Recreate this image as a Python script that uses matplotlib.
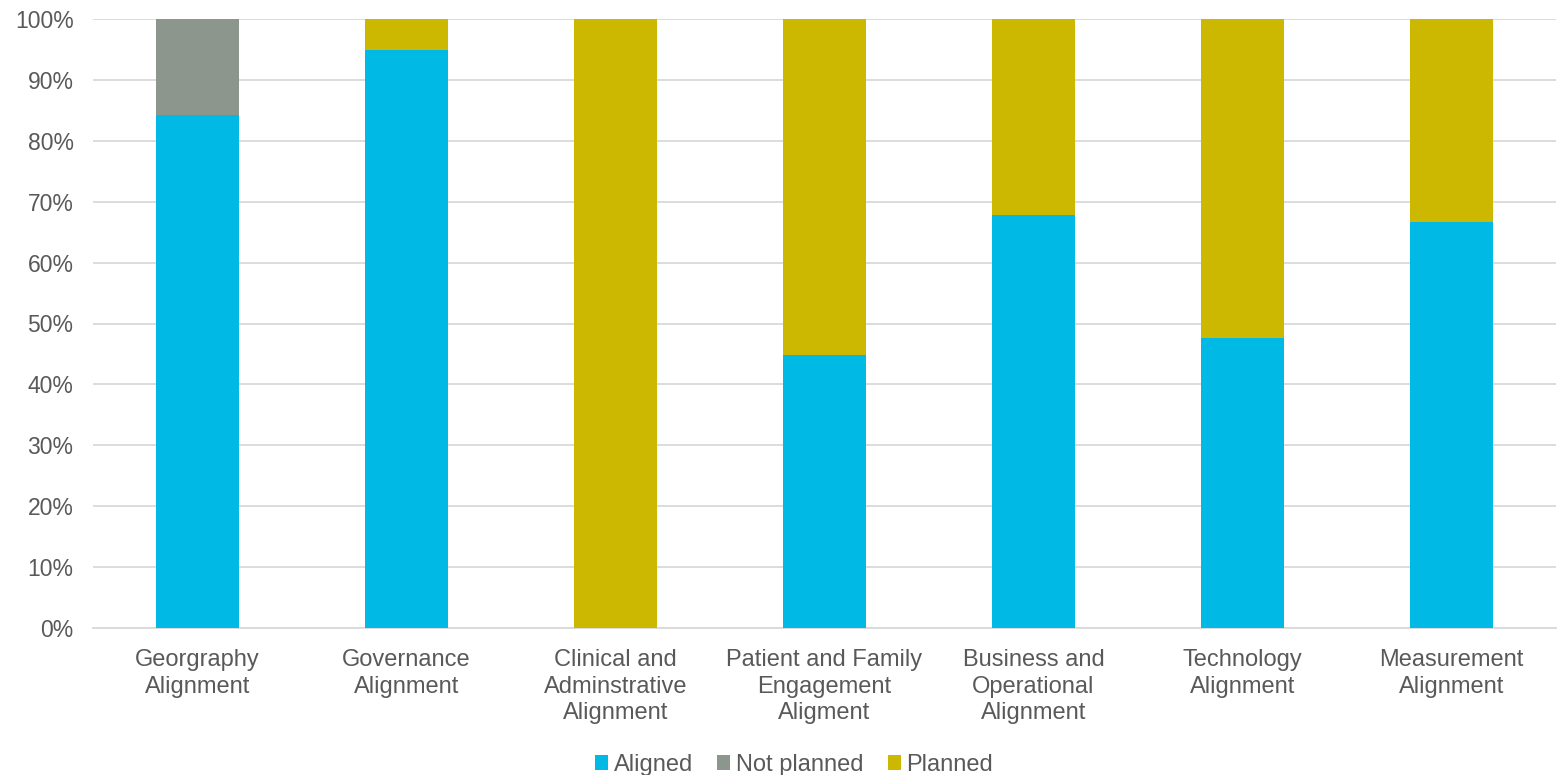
import matplotlib
matplotlib.use('Agg')
import matplotlib.pyplot as plt
import numpy as np
from matplotlib.ticker import PercentFormatter

plt.rcParams['font.family'] = ['Liberation Sans', 'DejaVu Sans']

categories = ['Georgraphy\nAlignment', 'Governance\nAlignment', 'Clinical and\nAdminstrative\nAlignment',
              'Patient and Family\nEngagement\nAligment', 'Business and\nOperational\nAlignment',
              'Technology\nAlignment', 'Measurement\nAlignment']
aligned = [84.2, 94.9, 0.0, 44.8, 67.8, 47.6, 66.7]
not_planned = [15.8, 0.0, 0.0, 0.0, 0.0, 0.0, 0.0]
planned = [0.0, 5.1, 100.0, 55.2, 32.2, 52.4, 33.3]
series_names = ['Aligned', 'Not planned', 'Planned']
colors = ['#00B9E4', '#8C968C', '#CCB800']

text_color = '#595959'

fig = plt.figure(figsize=(15.58, 7.75), dpi=100)
ax = fig.add_axes([93 / 1558, 1 - 628 / 775, 1463 / 1558, 609 / 775])

x = np.arange(len(categories))
bottom = np.zeros(len(categories))
for vals, name, c in zip([aligned, not_planned, planned], series_names, colors):
    ax.bar(x, vals, width=0.4, bottom=bottom, color=c, label=name, zorder=3)
    bottom += np.array(vals)

ax.set_xlim(-0.5, len(categories) - 0.5)
ax.set_ylim(0, 100)
ax.set_yticks(np.arange(0, 101, 10))
ax.yaxis.set_major_formatter(PercentFormatter(decimals=0))
ax.set_xticks(x)
ax.set_xticklabels(categories, fontsize=17, color=text_color, linespacing=1.28)
ax.tick_params(axis='y', labelsize=16.5, labelcolor=text_color, length=0, pad=14)
ax.tick_params(axis='x', length=0, pad=15)
ax.grid(axis='y', color='#D9D9D9', linewidth=1.3, zorder=0)
for s in ['top', 'right', 'left']:
    ax.spines[s].set_visible(False)
ax.spines['bottom'].set_color('#D9D9D9')
ax.spines['bottom'].set_linewidth(1.3)

leg = fig.legend(loc='center', bbox_to_anchor=(794 / 1558, 0.013), ncol=3, frameon=False,
                 fontsize=17, handlelength=0.55, handleheight=0.55, handletextpad=0.25,
                 columnspacing=1.02, labelcolor=text_color, borderpad=0)

fig.savefig('out.png', dpi=100)
